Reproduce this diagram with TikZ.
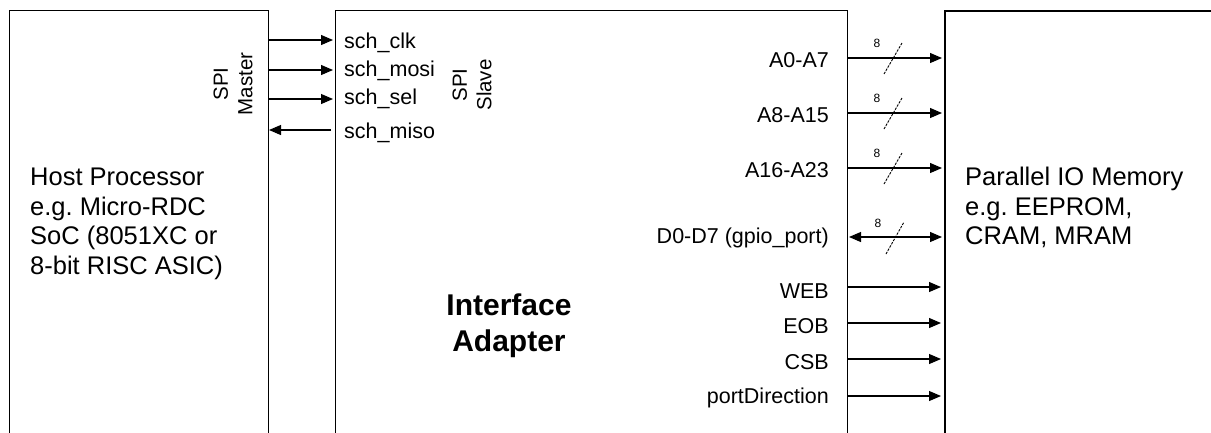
\documentclass[tikz,border=0pt]{standalone}
\usepackage{fontspec}
\setmainfont{Liberation Sans}
\usetikzlibrary{arrows.meta}
\frenchspacing
\begin{document}
\begin{tikzpicture}[x=1pt,y=-1pt,
  box/.style={draw, line width=1.4pt, rectangle, inner sep=0, anchor=north west},
  sig/.style={line width=1.1pt, -{Triangle[length=12pt,width=10pt]}},
  bisig/.style={line width=1.1pt, {Triangle[length=12pt,width=10pt]}-{Triangle[length=12pt,width=10pt]}},
  lbl/.style={font=\fontsize{21.5}{24}\selectfont, inner sep=0},
  bus/.style={line width=0.9pt, dash pattern=on 2.5pt off 1.2pt},
  buslbl/.style={font=\fontsize{12}{13}\selectfont, inner sep=0},
  big/.style={font=\fontsize{25.5}{29.5}\selectfont, align=left, inner sep=0, anchor=north west},
  spi/.style={font=\fontsize{20.5}{24.5}\selectfont, align=center, rotate=90, inner sep=0}
]
\useasboundingbox (0,0) rectangle (1211,432);
\clip (0,0) rectangle (1211,432);

% boxes
\node[box, minimum width=259pt, minimum height=460pt] (host) at (9,10) {};
\node[box, line width=1.2pt, minimum width=512pt, minimum height=460pt] (adapter) at (335,10) {};
\node[box, line width=2pt, minimum width=300pt, minimum height=460pt] (mem) at (944,10) {};

% box texts
\node[big] (hosttxt) at (30,168) {Host Processor\\e.g. Micro-RDC\\SoC (8051XC or\\8-bit RISC ASIC)};
\node[big] (memtxt) at (965,167) {Parallel IO Memory\\e.g. EEPROM,\\CRAM, MRAM};
\node[font=\bfseries\fontsize{30}{36}\selectfont, align=center, inner sep=0, anchor=north] (adtxt) at (509,294) {Interface\\Adapter};
\node[spi] (master) at (233,84) {SPI\\Master};
\node[spi] (slave) at (472,85) {SPI\\Slave};

% SPI signals
\foreach \n/\y/\b/\t in {1/40/48/sch\_clk, 2/70/76/sch\_mosi, 3/99/104/sch\_sel}{
  \coordinate (ma\n) at (268,\y);
  \coordinate (sl\n) at (333,\y);
  \draw[sig] (ma\n) -- (sl\n);
  \node[lbl, anchor=base west] (l\n) at (344,\b) {\t};
}
\coordinate (ma4) at (269,130);
\coordinate (sl4) at (331,130);
\draw[sig] (sl4) -- (ma4);
\node[lbl, anchor=base west] (l4) at (344,138) {sch\_miso};

% bus signals
\foreach \n/\y/\b/\t in {1/58/67/A0-A7, 2/113/122/A8-A15, 3/168/177/A16-A23}{
  \coordinate (o\n) at (847,\y);
  \coordinate (i\n) at (942,\y);
  \coordinate (c\n) at (893,\y);
  \draw[sig] (o\n) -- (i\n);
  \draw[bus] (c\n) ++(-9,16) -- ++(18,-31);
  \node[buslbl] (w\n) at (877,\y-15) {8};
  \node[lbl, anchor=base east] (r\n) at (829,\b) {\t};
}
\coordinate (o4) at (849,237);
\coordinate (i4) at (942,237);
\coordinate (c4) at (895,237);
\draw[bisig] (o4) -- (i4);
\draw[bus] (c4) ++(-9,17) -- ++(18,-32);
\node[buslbl] (w4) at (878,223) {8};
\node[lbl, anchor=base east] (r4) at (829,243) {D0-D7 (gpio\_port)};

% control signals
\foreach \n/\y/\b/\t in {5/287/298/WEB, 6/323/333/EOB, 7/359/369/CSB, 8/396/403/portDirection}{
  \coordinate (o\n) at (847,\y);
  \coordinate (i\n) at (941,\y);
  \draw[sig] (o\n) -- (i\n);
  \node[lbl, anchor=base east] (r\n) at (829,\b) {\t};
}
\end{tikzpicture}
\end{document}
